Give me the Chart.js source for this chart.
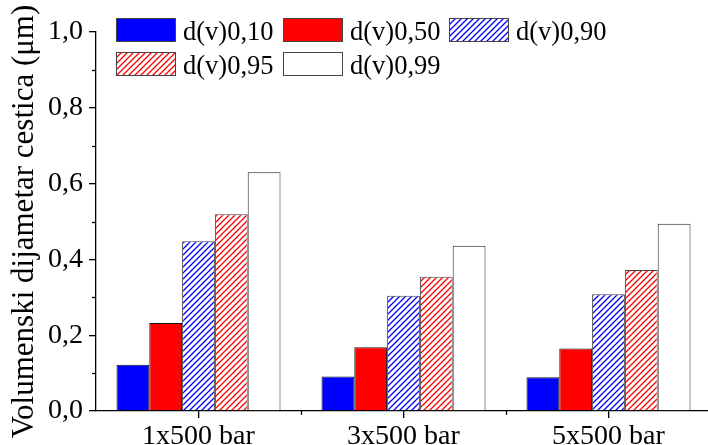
<!DOCTYPE html>
<html>
<head>
<meta charset="utf-8">
<script src="https://cdn.jsdelivr.net/npm/chart.js@4.4.0/dist/chart.umd.min.js"></script>
<style>
html,body{margin:0;padding:0;overflow:hidden;background:#fff;}
canvas{display:block;}
</style>
</head>
<body>
<canvas id="c" width="711" height="445"></canvas>
<script>
const categories = ['1x500 bar', '3x500 bar', '5x500 bar'];
const seriesNames = ['d(v)0,10', 'd(v)0,50', 'd(v)0,90', 'd(v)0,95', 'd(v)0,99'];
const d10 = [0.122, 0.091, 0.089];
const d50 = [0.232, 0.168, 0.165];
const d90 = [0.448, 0.304, 0.308];
const d95 = [0.519, 0.354, 0.372];
const d99 = [0.630, 0.436, 0.494];
const yTicks = [0, 0.2, 0.4, 0.6, 0.8, 1.0];
const yTitle = 'Volumenski dijametar cestica (μm)';

const FONT = "'Liberation Serif', 'Times New Roman', serif";

function hatch(color) {
  const s = 6;
  const c = document.createElement('canvas');
  c.width = s; c.height = s;
  const g = c.getContext('2d');
  g.fillStyle = '#fff';
  g.fillRect(0, 0, s, s);
  g.strokeStyle = color;
  g.lineWidth = 1.3;
  g.beginPath();
  g.moveTo(-1, s + 1); g.lineTo(s + 1, -1);
  g.moveTo(-1, 1); g.lineTo(1, -1);
  g.moveTo(s - 1, s + 1); g.lineTo(s + 1, s - 1);
  g.stroke();
  return g.createPattern(c, 'repeat');
}

const fills = ['#0000ff', '#ff0000', hatch('#0000ff'), hatch('#ff0000'), '#ffffff'];
const borders = ['#111', '#111', '#444', '#444', '#222'];
const values = [d10, d50, d90, d95, d99];

const datasets = seriesNames.map((n, i) => ({
  label: n,
  data: values[i],
  backgroundColor: fills[i],
  borderColor: borders[i],
  borderWidth: 1,
  categoryPercentage: 0.8,
  barPercentage: 1.0
}));

const legendPos = [[116, 18], [283, 18], [449, 18], [116, 52], [283, 52]];

const extras = {
  id: 'extras',
  afterDraw(chart) {
    const ctx = chart.ctx;
    const x = chart.scales.x, y = chart.scales.y;
    ctx.save();
    ctx.strokeStyle = '#000';
    ctx.lineWidth = 1.3;
    for (let i = 0; i < yTicks.length - 1; i++) {
      const v = (yTicks[i] + yTicks[i + 1]) / 2;
      const py = Math.round(y.getPixelForValue(v)) + 0.5;
      ctx.beginPath();
      ctx.moveTo(x.left - 4, py); ctx.lineTo(x.left, py);
      ctx.stroke();
    }
    for (let i = 1; i < categories.length; i++) {
      const px = Math.round(x.getPixelForValue(i - 0.5)) + 0.5;
      ctx.beginPath();
      ctx.moveTo(px, y.bottom); ctx.lineTo(px, y.bottom + 4);
      ctx.stroke();
    }
    ctx.font = "26.5px " + FONT;
    ctx.textBaseline = 'alphabetic';
    ctx.textAlign = 'left';
    chart.data.datasets.forEach((ds, i) => {
      const [lx, ly] = legendPos[i];
      ctx.fillStyle = ds.backgroundColor;
      ctx.fillRect(lx, ly, 60, 24);
      ctx.strokeStyle = '#444';
      ctx.lineWidth = 1;
      ctx.strokeRect(lx + 0.5, ly + 0.5, 59, 23);
      ctx.fillStyle = '#000';
      ctx.fillText(ds.label, lx + 67, ly + 21.5);
    });
    ctx.restore();
  }
};

new Chart(document.getElementById('c'), {
  type: 'bar',
  data: { labels: categories, datasets },
  options: {
    responsive: false,
    animation: false,
    layout: { padding: { top: 32, right: 0, left: 0, bottom: 0 } },
    plugins: { legend: { display: false }, tooltip: { enabled: false } },
    scales: {
      x: {
        grid: { display: true, drawOnChartArea: false, offset: false, tickLength: 7, color: '#000', lineWidth: 1.3 },
        border: { display: true, color: '#000', width: 1.3 },
        ticks: { color: '#000', font: { family: FONT, size: 28 }, padding: 2, maxRotation: 0 },
        afterFit(s) { s.height = 34; }
      },
      y: {
        min: 0, max: 1.0,
        afterBuildTicks(s) { s.ticks = yTicks.map(v => ({ value: v })); },
        grid: { display: true, drawOnChartArea: false, tickLength: 7, color: '#000', lineWidth: 1.3 },
        border: { display: true, color: '#000', width: 1.3 },
        ticks: {
          color: '#000', font: { family: FONT, size: 28 }, padding: 6,
          callback: v => Number(v).toFixed(1).replace('.', ',')
        },
        title: { display: true, text: yTitle, color: '#000', font: { family: FONT, size: 31 }, padding: { top: 6, bottom: 0 } },
        afterFit(s) { s.width = 96; }
      }
    }
  },
  plugins: [extras]
});
</script>
</body>
</html>
